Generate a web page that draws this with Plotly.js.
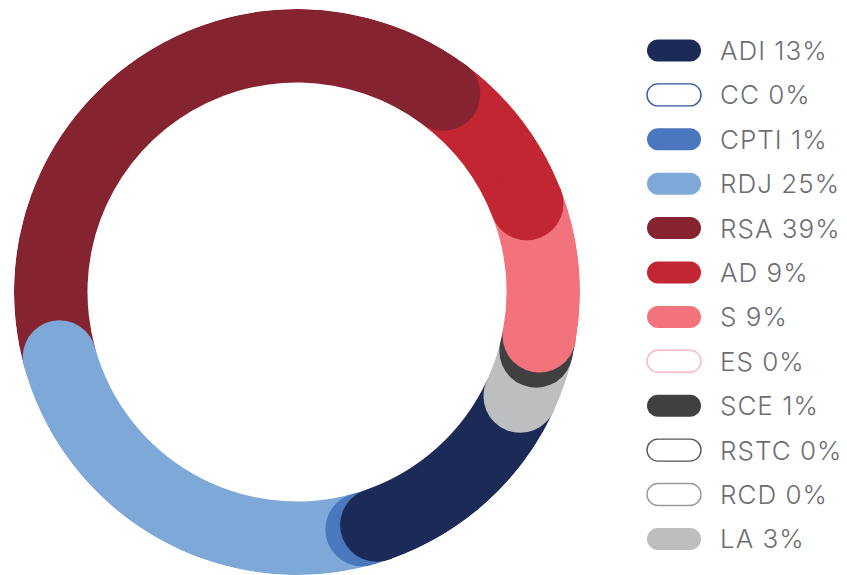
<!DOCTYPE html>
<html><head><meta charset="utf-8">
<script src="https://cdn.plot.ly/plotly-3.0.1.min.js"></script>
<style>html,body{margin:0;padding:0;background:#fff}
.annotation-text{letter-spacing:1px}</style>
</head><body><div id="chart" style="width:847px;height:575px"></div>
<script>
const categories = ['ADI','CC','CPTI','RDJ','RSA','AD','S','ES','SCE','RSTC','RCD','LA'];
const shares = [12.8,0,1,25,39.4,9,8.7,0,1,0,0,3.1];
const labels = categories.map((c,i)=>c+' '+Math.round(shares[i])+'%');
const fillColors = ['#1b2a56','#ffffff','#4a77bd','#7ea8d8','#862330','#c12632','#f2737c','#ffffff','#404042','#ffffff','#ffffff','#bdbec0'];
const edgeColors = ['#1b2a56','#2f57a0','#4a77bd','#7ea8d8','#862330','#c12632','#f2737c','#f7b9be','#404042','#555558','#9a9a9c','#bdbec0'];

const W = 847, H = 575;
const START = 115;            // angle (deg, clockwise from top) where first slice begins
const R_OUT = 283, R_IN = 209.5;
const total = shares.reduce((a,b)=>a+b,0);

let acc = 0;
const segs = shares.map((v,i)=>{
  const s = acc; acc += v;
  return {i, v, t0: START + s/total*360, t1: START + acc/total*360};
});
const nz = segs.filter(s=>s.v>0);

const bars = {
  type:'barpolar',
  r: nz.map(()=>R_OUT-R_IN),
  base: nz.map(()=>R_IN),
  theta: nz.map(s=>(s.t0+s.t1)/2),
  width: nz.map(s=>s.t1-s.t0),
  marker:{color: nz.map(s=>fillColors[s.i]), line:{width:0}},
  hoverinfo:'skip', showlegend:false
};
const capsOrder = nz.slice().reverse();
const caps = {
  type:'scatterpolar', mode:'markers', cliponaxis:false,
  r: capsOrder.map(()=>(R_OUT+R_IN)/2),
  theta: capsOrder.map(s=>s.t1),
  marker:{size: R_OUT-R_IN, color: capsOrder.map(s=>fillColors[s.i]), line:{width:0}, opacity:1},
  hoverinfo:'skip', showlegend:false
};

// legend built as shapes + annotations
const LEG_Y0 = 50.5, LEG_DY = 44.4, PILL_X = 674, TEXT_X = 718;
const hw = 27, hh = 11, k = 0.5523*hh, sx = hw-hh;
const pill = `M${-sx},${-hh} H${sx} C${sx+k},${-hh} ${hw},${-k} ${hw},0 C${hw},${k} ${sx+k},${hh} ${sx},${hh} H${-sx} C${-sx-k},${hh} ${-hw},${k} ${-hw},0 C${-hw},${-k} ${-sx-k},${-hh} ${-sx},${-hh} Z`;
const shapes = categories.map((c,i)=>({
  type:'path', xref:'paper', yref:'paper', xsizemode:'pixel', ysizemode:'pixel',
  xanchor: PILL_X/W, yanchor: 1-(LEG_Y0+i*LEG_DY)/H, path: pill,
  fillcolor: fillColors[i], line:{color: edgeColors[i], width: shares[i]>0?0:1.4}
}));
const annotations = labels.map((t,i)=>({
  text:t, xref:'paper', yref:'paper', x: TEXT_X/W, y: 1-(LEG_Y0+i*LEG_DY)/H,
  xanchor:'left', yanchor:'middle', showarrow:false,
  font:{family:'Inter, Roboto, sans-serif', size:26, weight:300, color:'#6d6e72'}
}));

const layout = {
  width:W, height:H, margin:{l:0,r:0,t:0,b:0},
  paper_bgcolor:'#fff', plot_bgcolor:'#fff', showlegend:false,
  polar:{
    domain:{x:[14/W, 580/W], y:[0, 566/H]},
    bgcolor:'rgba(0,0,0,0)', hole:0, bargap:0,
    radialaxis:{range:[0,R_OUT], visible:false},
    angularaxis:{rotation:90, direction:'clockwise', visible:false}
  },
  shapes, annotations
};
Plotly.newPlot('chart',[bars,caps],layout,{staticPlot:true,displayModeBar:false});
</script></body></html>
